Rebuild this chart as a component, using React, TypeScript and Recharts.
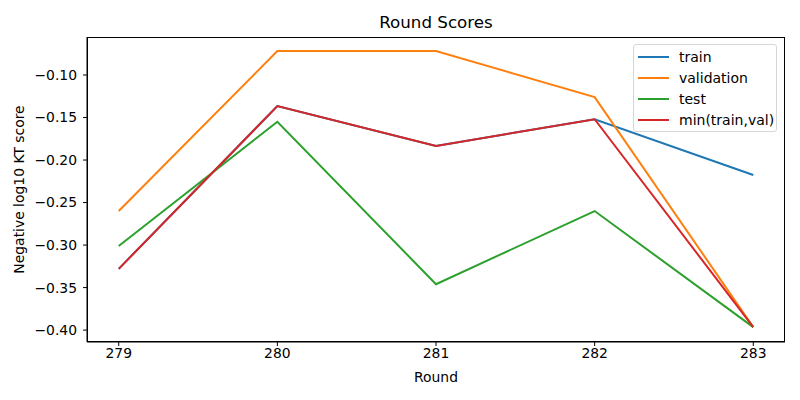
import React from "react";
import { LineChart, Line, XAxis, YAxis } from "recharts";

const rounds = [279, 280, 281, 282, 283];
const train = [-0.328, -0.1365, -0.1835, -0.152, -0.2176];
const validation = [-0.26, -0.0718, -0.0718, -0.126, -0.3965];
const test = [-0.301, -0.155, -0.346, -0.26, -0.3965];
const minTrainVal = [-0.328, -0.1365, -0.1835, -0.152, -0.3965];

const yTicks = [-0.4, -0.35, -0.3, -0.25, -0.2, -0.15, -0.1];

const series = [
  { key: "train", color: "#1f77b4" },
  { key: "validation", color: "#ff7f0e" },
  { key: "test", color: "#2ca02c" },
  { key: "min(train,val)", color: "#d62728" },
];

const data = rounds.map((r, i) => ({
  round: r,
  train: train[i],
  validation: validation[i],
  test: test[i],
  "min(train,val)": minTrainVal[i],
}));

const font = "DejaVu Sans, sans-serif";
const fmt = (v: number) => (v < 0 ? "\u2212" : "") + Math.abs(v).toFixed(2);

const LegendBox = () => (
  <div
    style={{
      position: "absolute",
      left: 633,
      top: 44,
      width: 144,
      height: 88,
      border: "1px solid #d6d6d6",
      borderRadius: 3,
      background: "rgba(255,255,255,0.8)",
      boxSizing: "border-box",
      paddingTop: 1,
      fontFamily: font,
      fontSize: 14,
      color: "#000",
    }}
  >
    {series.map((s) => (
      <div key={s.key} style={{ display: "flex", alignItems: "center", height: 21 }}>
        <div style={{ width: 31, height: 2, background: s.color, marginLeft: 4, marginRight: 10 }} />
        <span>{s.key}</span>
      </div>
    ))}
  </div>
);

export default function App() {
  return (
    <div style={{ position: "absolute", left: 0, top: 0, width: 800, height: 400, background: "#fff" }}>
      <div
        style={{
          position: "absolute",
          left: 87,
          width: 698,
          top: 12,
          textAlign: "center",
          fontFamily: font,
          fontSize: 16.7,
        }}
      >
        Round Scores
      </div>
      <LineChart width={800} height={400} data={data} margin={{ top: 37, right: 15, bottom: 0, left: 0 }}>
        <XAxis
          dataKey="round"
          type="number"
          domain={[278.8, 283.2]}
          ticks={rounds}
          allowDataOverflow
          stroke="#000"
          tickSize={4}
          tickMargin={2}
          tick={{ fill: "#000", fontSize: 13.9, fontFamily: font }}
          height={58}
          label={{ value: "Round", position: "insideBottom", offset: 18, fill: "#000", fontSize: 13.9, fontFamily: font }}
        />
        <YAxis
          type="number"
          domain={[-0.414, -0.0553]}
          ticks={yTicks}
          allowDataOverflow
          tickFormatter={fmt}
          stroke="#000"
          tickSize={4}
          tickMargin={6}
          width={87}
          tick={{ fill: "#000", fontSize: 13.9, fontFamily: font }}
          label={{
            value: "Negative log10 KT score",
            angle: -90,
            position: "insideLeft",
            offset: 19,
            style: { textAnchor: "middle" },
            fill: "#000",
            fontSize: 13.9,
            fontFamily: font,
          }}
        />
        {series.map((s) => (
          <Line
            key={s.key}
            dataKey={s.key}
            stroke={s.color}
            strokeWidth={2}
            dot={false}
            type="linear"
            isAnimationActive={false}
          />
        ))}
      </LineChart>
      <div
        style={{
          position: "absolute",
          left: 87,
          top: 37,
          width: 698,
          height: 305,
          border: "1px solid #000",
          boxSizing: "border-box",
          pointerEvents: "none",
        }}
      />
      <LegendBox />
    </div>
  );
}
